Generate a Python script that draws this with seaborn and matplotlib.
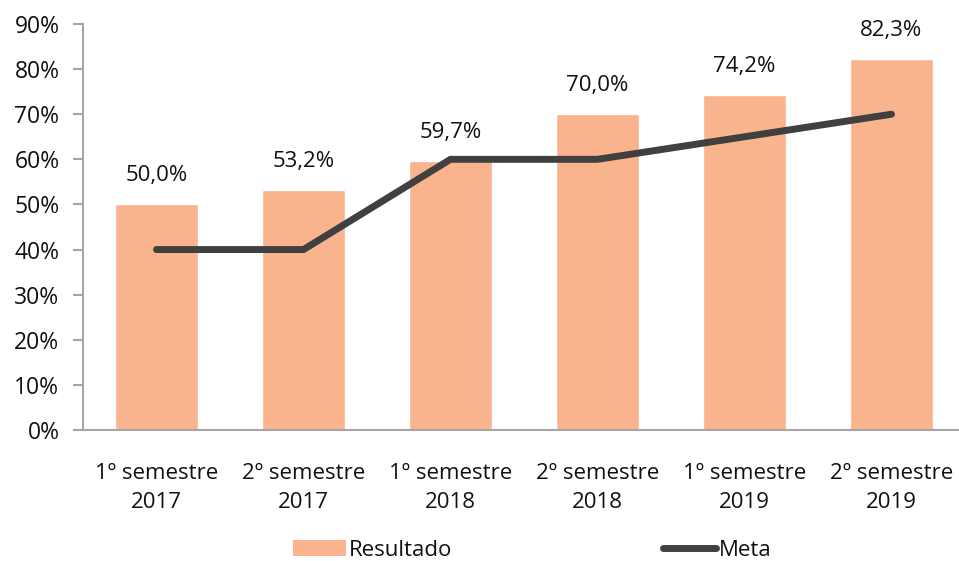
import numpy as np
import pandas as pd
import matplotlib
matplotlib.use("Agg")
import matplotlib.pyplot as plt
import seaborn as sns
from matplotlib.ticker import FuncFormatter
from matplotlib.patches import Patch
from matplotlib.lines import Line2D

# data
categorias = ["1º semestre\n2017", "2º semestre\n2017", "1º semestre\n2018",
              "2º semestre\n2018", "1º semestre\n2019", "2º semestre\n2019"]
resultado = [50.0, 53.2, 59.7, 70.0, 74.2, 82.3]
meta = [40, 40, 60, 60, 65, 70]

cor_barra = "#F9B48E"
cor_linha = "#404040"
cor_texto = "#111111"
fs = 16

sns.set_style("white")
plt.rcParams["font.family"] = ["Open Sans", "DejaVu Sans"]

df = pd.DataFrame({"Periodo": categorias, "Resultado": resultado, "Meta": meta})

fig = plt.figure(figsize=(9.59, 5.61), dpi=100)
ax = fig.add_axes([83 / 959, 131 / 561, 876 / 959, 406 / 561])

sns.barplot(data=df, x="Periodo", y="Resultado", color=cor_barra,
            width=0.57, saturation=1, ax=ax, zorder=2)
sns.lineplot(x=np.arange(len(meta)), y=meta, color=cor_linha,
             linewidth=5, ax=ax, zorder=3)

for i, v in enumerate(resultado):
    ax.annotate(f"{v:.1f}".replace(".", ",") + "%", (i, v),
                xytext=(0, 13), textcoords="offset points",
                ha="center", va="bottom", fontsize=fs, color=cor_texto)

ax.set_ylim(0, 90)
ax.set_xlim(-0.5, -0.5 + 876 / 147)
ax.set_yticks(range(0, 91, 10))
ax.yaxis.set_major_formatter(FuncFormatter(lambda v, p: f"{v:.0f}%"))
ax.set_xlabel("")
ax.set_ylabel("")

for s in ["top", "right"]:
    ax.spines[s].set_visible(False)
for s in ["left", "bottom"]:
    ax.spines[s].set_color("#A6A6A6")
    ax.spines[s].set_linewidth(1.5)

ax.tick_params(axis="y", which="major", left=True, length=7, width=1.5,
               color="#A6A6A6", labelsize=16.5, labelcolor=cor_texto, pad=10)
ax.tick_params(axis="x", bottom=False, labelsize=fs, labelcolor=cor_texto, pad=20)
for lab in ax.get_xticklabels():
    lab.set_linespacing(1.55)

handles = [Patch(facecolor=cor_barra, edgecolor="none", label="Resultado"),
           Line2D([0], [0], color=cor_linha, linewidth=5, label="Meta",
                  solid_capstyle="round")]
fig.legend(handles=handles, loc="lower center", ncol=2, frameon=False,
           bbox_to_anchor=(0.555, -0.035), fontsize=fs, columnspacing=9.5,
           handlelength=2.4, handletextpad=0.1, labelcolor=cor_texto)

fig.savefig("out.png", dpi=100)
